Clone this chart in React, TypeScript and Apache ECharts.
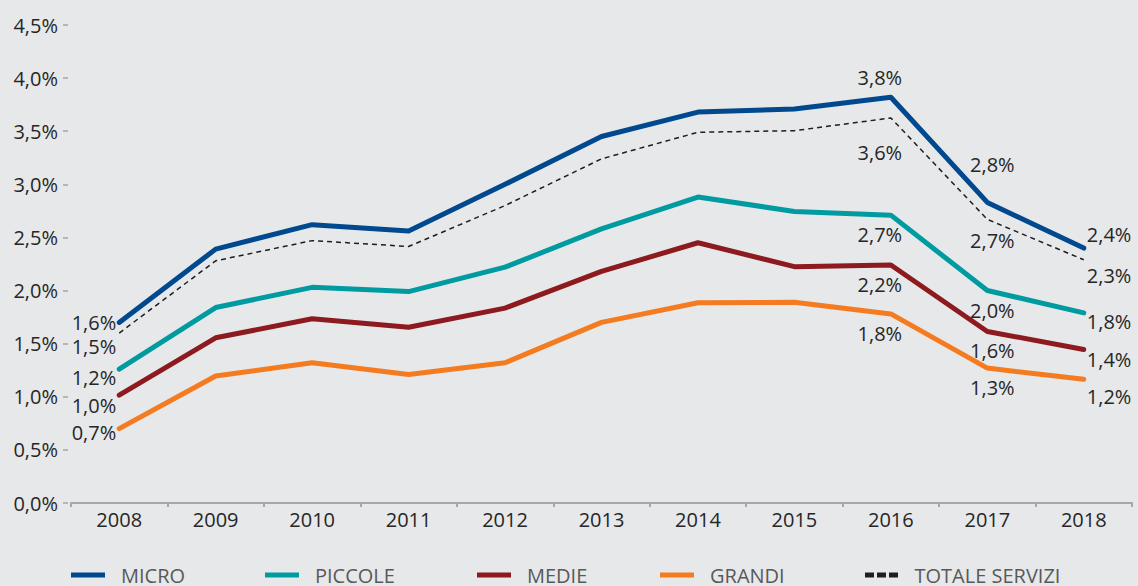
import React, { useEffect, useRef } from "react";
import * as echarts from "echarts";

const years = ["2008", "2009", "2010", "2011", "2012", "2013", "2014", "2015", "2016", "2017", "2018"];

const micro = [1.70, 2.39, 2.62, 2.56, 3.0, 3.45, 3.68, 3.71, 3.82, 2.83, 2.40];
const piccole = [1.26, 1.84, 2.03, 1.99, 2.22, 2.58, 2.88, 2.745, 2.71, 2.0, 1.79];
const medie = [1.015, 1.555, 1.735, 1.655, 1.835, 2.18, 2.45, 2.225, 2.24, 1.615, 1.445];
const grandi = [0.70, 1.195, 1.32, 1.21, 1.32, 1.70, 1.885, 1.89, 1.78, 1.27, 1.165];
const totale = [1.60, 2.28, 2.47, 2.415, 2.80, 3.24, 3.49, 3.505, 3.625, 2.67, 2.29];

const microLabels = ["1,6%", "", "", "", "", "", "", "", "3,8%", "2,8%", "2,4%"];
const piccoleLabels = ["1,2%", "", "", "", "", "", "", "", "2,7%", "2,0%", "1,8%"];
const medieLabels = ["1,0%", "", "", "", "", "", "", "", "2,2%", "1,6%", "1,4%"];
const grandiLabels = ["0,7%", "", "", "", "", "", "", "", "1,8%", "1,3%", "1,2%"];
const totaleLabels = ["1,5%", "", "", "", "", "", "", "", "3,6%", "2,7%", "2,3%"];

const yTicks = [0, 0.5, 1, 1.5, 2, 2.5, 3, 3.5, 4, 4.5];

// label layout: index -> [align, dx, dy]
type LL = Record<number, [string, number, number]>;
const microLayout: LL = { 0: ["right", -3, 0], 8: ["center", -11, -20], 9: ["center", 5, -38], 10: ["left", 3, -14] };
const totaleLayout: LL = { 0: ["right", -3, 13], 8: ["center", -11, 35], 9: ["center", 5, 21], 10: ["left", 3, 16] };
const piccoleLayout: LL = { 0: ["right", -3, 8], 8: ["center", -11, 19], 9: ["center", 5, 20], 10: ["left", 3, 9] };
const medieLayout: LL = { 0: ["right", -3, 10], 8: ["center", -11, 19], 9: ["center", 5, 19], 10: ["left", 3, 10] };
const grandiLayout: LL = { 0: ["right", -3, 4], 8: ["center", -11, 20], 9: ["center", 5, 19], 10: ["left", 3, 17] };

const FONT = "'Open Sans', 'Noto Sans', sans-serif";
const TEXT = "#262626";
const FS = 20;

function buildData(values: number[], labels: string[], layout: LL) {
  return values.map((v, i) => {
    const l = layout[i];
    if (!labels[i] || !l) return { value: v };
    return {
      value: v,
      label: {
        show: true,
        position: "inside",
        align: l[0],
        verticalAlign: "middle",
        offset: [l[1], l[2]],
        formatter: labels[i],
        fontSize: FS,
        fontFamily: FONT,
        color: TEXT,
      },
    };
  });
}

function lineSeries(name: string, color: string, values: number[], labels: string[], layout: LL, dashed = false) {
  return {
    name,
    type: "line",
    data: buildData(values, labels, layout),
    symbol: "circle",
    symbolSize: 0,
    showSymbol: true,
    itemStyle: { color },
    lineStyle: dashed
      ? { color, width: 1.5, type: [5, 4] }
      : { color, width: 5, cap: "round", join: "round" },
    z: dashed ? 3 : 2,
    emphasis: { disabled: true },
  };
}

function legend(name: string, left: number, icon: string) {
  return {
    data: [name],
    left,
    top: 564,
    padding: 0,
    icon,
    itemWidth: 34,
    itemHeight: 5,
    selectedMode: false,
    textStyle: { fontSize: FS, fontFamily: FONT, color: "#595959", lineHeight: 22, padding: [0, 0, 0, 11] },
  };
}

export default function App() {
  const ref = useRef<HTMLDivElement>(null);
  useEffect(() => {
    if (!ref.current) return;
    const chart = echarts.init(ref.current, null, { renderer: "svg" });
    chart.setOption({
      animation: false,
      backgroundColor: "#e7e8ea",
      grid: { left: 71, right: 6, top: 25, bottom: 83 },
      xAxis: {
        type: "category",
        data: years,
        boundaryGap: true,
        axisLine: { show: true, lineStyle: { color: "#a6a6a6", width: 2 } },
        axisTick: { show: true, length: 4, lineStyle: { color: "#a6a6a6", width: 2 } },
        axisLabel: { fontSize: FS, fontFamily: FONT, color: TEXT, margin: 6 },
        splitLine: { show: false },
      },
      yAxis: {
        type: "value",
        min: yTicks[0],
        max: yTicks[yTicks.length - 1],
        interval: 0.5,
        offset: 3,
        axisLine: { show: false },
        axisTick: { show: true, length: 5, lineStyle: { color: "#a6a6a6", width: 1.5 } },
        axisLabel: {
          fontSize: FS,
          fontFamily: FONT,
          color: TEXT,
          margin: 10,
          formatter: (v: number) => v.toFixed(1).replace(".", ",") + "%",
        },
        splitLine: { show: false },
      },
      legend: [
        legend("MICRO", 71, "rect"),
        legend("PICCOLE", 265, "rect"),
        legend("MEDIE", 477, "rect"),
        legend("GRANDI", 660, "rect"),
        legend("TOTALE SERVIZI", 865, "path://M0,0h9v5H0z M12,0h9v5h-9z M24,0h9v5h-9z"),
      ],
      series: [
        lineSeries("MICRO", "#00498f", micro, microLabels, microLayout),
        lineSeries("PICCOLE", "#009ba0", piccole, piccoleLabels, piccoleLayout),
        lineSeries("MEDIE", "#8c1a1e", medie, medieLabels, medieLayout),
        lineSeries("GRANDI", "#f47b20", grandi, grandiLabels, grandiLayout),
        lineSeries("TOTALE SERVIZI", "#1e1e1e", totale, totaleLabels, totaleLayout, true),
      ],
    });
    return () => chart.dispose();
  }, []);
  return (
    <div
      ref={ref}
      style={{ position: "fixed", left: 0, top: 0, width: 1138, height: 586 }}
    />
  );
}
